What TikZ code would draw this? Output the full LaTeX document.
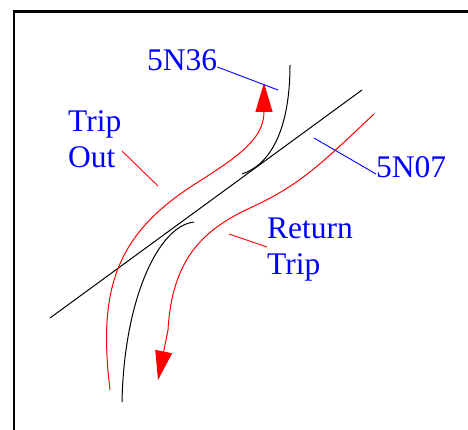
\documentclass[tikz,border=0pt]{standalone}
\usepackage{fontspec}
\setmainfont{Liberation Serif}
\usetikzlibrary{arrows.meta}
\begin{document}
\begin{tikzpicture}[x=1pt,y=-1pt,
  lbl/.style={text=blue,inner sep=0pt,font=\fontsize{31.5}{36}\selectfont},
  track/.style={black,line width=1pt},
  route/.style={red,line width=1pt},
  redlead/.style={red,line width=0.9pt},
  bluelead/.style={blue,line width=0.9pt},
  bigarrow/.style={-{Triangle[length=29pt,width=17pt]}}]
\useasboundingbox (0,0) rectangle (468,430);
% frame
\draw[line width=2.7pt,line join=miter] (14,431) -- (14,11.3) -- (469,11.3);
% tracks
\coordinate (d1) at (50,318);
\coordinate (d2) at (362,90);
\draw[track] (d1) -- (d2);
\coordinate (u1) at (290,65);
\coordinate (u2) at (242,174);
\draw[track] (u1) .. controls (290,130) and (270,165) .. (u2);
\coordinate (l1) at (122,402);
\coordinate (l2) at (194,222);
\draw[track] (l1) .. controls (124,300) and (158,226) .. (l2);
% routes
\coordinate (o1) at (110,390);
\coordinate (o2) at (264,83);
\draw[route,bigarrow] (o1) .. controls (98,290) and (115,235) .. (195,184)
  .. controls (235,158.5) and (264,140) .. (264,112) -- (o2);
\coordinate (r1) at (374,114);
\coordinate (r2) at (158,380);
\draw[route,bigarrow] (r1) .. controls (320,165) and (300,185) .. (250,208)
  .. controls (200,231) and (172,262) .. (168,330) -- (r2);
% labels
\node[lbl,anchor=base west] (n36) at (147,71) {5N36};
\node[lbl,anchor=base west] (n07) at (376,178) {5N07};
\node[lbl,anchor=north west,align=left] (tripout) at (68,110) {Trip\\Out};
\node[lbl,anchor=north west,align=left] (ret) at (267,218) {Return\\Trip};
% leaders
\coordinate (a36) at (278,90);
\draw[bluelead] ([yshift=4pt]n36.base east) -- (a36);
\coordinate (a07) at (314,138);
\draw[bluelead] ([yshift=4pt]n07.base west) -- (a07);
\coordinate (to1) at (122,151);
\coordinate (to2) at (158,186);
\draw[redlead] (to1) -- (to2);
\coordinate (rt1) at (267,247);
\coordinate (rt2) at (229,234);
\draw[redlead] (rt1) -- (rt2);
\end{tikzpicture}
\end{document}
